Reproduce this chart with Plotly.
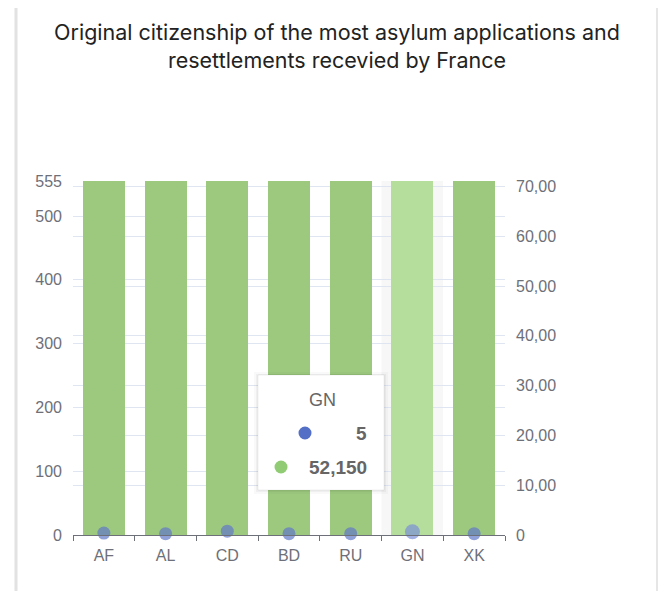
import plotly.graph_objects as go

categories = ["AF", "AL", "CD", "BD", "RU", "GN", "XK"]
applications = [83900, 73450, 61200, 57800, 55300, 52150, 48600]
resettlements = [3, 2, 6, 2, 2, 5, 2]
left_ticks = [0, 100, 200, 300, 400, 500, 555]
right_ticks = [0, 10, 20, 30, 40, 50, 60, 70]
right_labels = ["0", "10,00", "20,00", "30,00", "40,00", "50,00", "60,00", "70,00"]
hover_index = 5

OFF = 8  # page body margin
W_FIG, H_FIG = 669 - 2 * OFF, 599 - 2 * OFF
# reference pixel coords (window), converted to figure coords
L, R, T, B = 73 - OFF, 505 - OFF, 181 - OFF, 535 - OFF
PW, PH = R - L, B - T


def px(x):
    return (x - OFF - L) / PW


def py(y):
    return (B - (y - OFF)) / PH


GREEN = "#9dc97f"
GREEN_HI = "#b5de9c"
BLUE = "#6177c8"
BLUE_HI = "#7a8ed8"
AXIS = "#6E7079"
GRID = "#E0E6F1"
FONT = "Liberation Sans, Arial"

bar_colors = [GREEN_HI if i == hover_index else GREEN for i in range(len(categories))]
dot_colors = [BLUE_HI if i == hover_index else BLUE for i in range(len(categories))]
dot_sizes = [15 if i == hover_index else 13 for i in range(len(categories))]

fig = go.Figure()
fig.add_trace(go.Bar(x=categories, y=applications, marker=dict(color=bar_colors, line=dict(width=0)),
                     width=0.68, yaxis="y", cliponaxis=True, showlegend=False, hoverinfo="skip"))
fig.add_trace(go.Scatter(x=categories, y=resettlements, mode="markers",
                         marker=dict(color=dot_colors, size=dot_sizes, line=dict(width=0)),
                         yaxis="y", cliponaxis=False, showlegend=False, hoverinfo="skip"))
fig.add_trace(go.Scatter(x=[categories[0]], y=[0], yaxis="y2", mode="markers",
                         marker=dict(opacity=0), showlegend=False, hoverinfo="skip"))

shapes = []
shapes.append(dict(type="rect", xref="paper", yref="paper", x0=px(381.5), x1=px(443), y0=0, y1=1,
                   fillcolor="rgba(150,150,150,0.08)", line=dict(width=0), layer="below"))
shapes.append(dict(type="line", xref="paper", yref="paper", x0=px(16), x1=px(16), y0=py(8), y1=py(591),
                   line=dict(color="#e2e2e2", width=3)))
shapes.append(dict(type="line", xref="paper", yref="paper", x0=px(657), x1=px(657), y0=py(8), y1=py(591),
                   line=dict(color="#e6e6e6", width=2)))
tx0, tx1, ty0, ty1 = 258, 384, 375, 490
for k, a in [(4, 0.025), (2, 0.04)]:
    shapes.append(dict(type="rect", xref="paper", yref="paper", x0=px(tx0 - k), x1=px(tx1 + k),
                       y0=py(ty1 + k), y1=py(ty0 - k + 1), fillcolor=f"rgba(0,0,0,{a})", line=dict(width=0)))
shapes.append(dict(type="rect", xref="paper", yref="paper", x0=px(tx0), x1=px(tx1), y0=py(ty1), y1=py(ty0),
                   fillcolor="white", line=dict(color="rgba(0,0,0,0.06)", width=1)))
for (cx, cy, col) in [(305, 433, "#5470c6"), (281, 467, "#91cc75")]:
    shapes.append(dict(type="circle", xref="paper", yref="paper", xsizemode="pixel", ysizemode="pixel",
                       xanchor=px(cx), yanchor=py(cy), x0=-6.5, x1=6.5, y0=-6.5, y1=6.5,
                       fillcolor=col, line=dict(width=0)))

annotations = [
    dict(xref="paper", yref="paper", x=px(322), y=py(400), text=categories[hover_index], showarrow=False,
         font=dict(family=FONT, size=18, color="#666"), xanchor="center", yanchor="middle"),
    dict(xref="paper", yref="paper", x=px(369), y=py(433), text=f"<b>{resettlements[hover_index]:,}</b>",
         showarrow=False, font=dict(family=FONT, size=19, color="#666"), xanchor="right", yanchor="middle"),
    dict(xref="paper", yref="paper", x=px(369), y=py(467), text=f"<b>{applications[hover_index]:,}</b>",
         showarrow=False, font=dict(family=FONT, size=19, color="#666"), xanchor="right", yanchor="middle"),
]

fig.update_layout(
    width=W_FIG, height=H_FIG, autosize=False,
    margin=dict(l=L, r=W_FIG - R, t=T, b=H_FIG - B, pad=0),
    paper_bgcolor="white", plot_bgcolor="white",
    title=dict(text="Original citizenship of the most asylum applications and<br>resettlements recevied by France",
               x=(337 - OFF) / W_FIG, xref="container", xanchor="center",
               y=1 - 32 / H_FIG, yref="container", yanchor="top",
               font=dict(family="Inter, Roboto, Liberation Sans", size=21.5, color="#222")),
    bargap=0,
    xaxis=dict(type="category", range=[-0.5, len(categories) - 0.5], tickson="boundaries",
               ticks="outside", ticklen=5, tickcolor=AXIS, showline=True, linecolor=AXIS, linewidth=1,
               showgrid=False, zeroline=False, ticklabelstandoff=6,
               tickfont=dict(family=FONT, size=16, color=AXIS)),
    yaxis=dict(range=[0, 555], tickvals=left_ticks, showgrid=True, gridcolor=GRID, gridwidth=1,
               zeroline=False, showline=False, ticks="", ticklabelstandoff=10,
               tickfont=dict(family=FONT, size=16, color=AXIS)),
    yaxis2=dict(range=[0, 71.1], tickvals=right_ticks, ticktext=right_labels, overlaying="y", side="right",
                showgrid=True, gridcolor=GRID, gridwidth=1, zeroline=False, showline=False, ticks="",
                ticklabelstandoff=10,
                tickfont=dict(family=FONT, size=16, color=AXIS)),
    shapes=shapes, annotations=annotations,
)

fig.write_html("out.html")
